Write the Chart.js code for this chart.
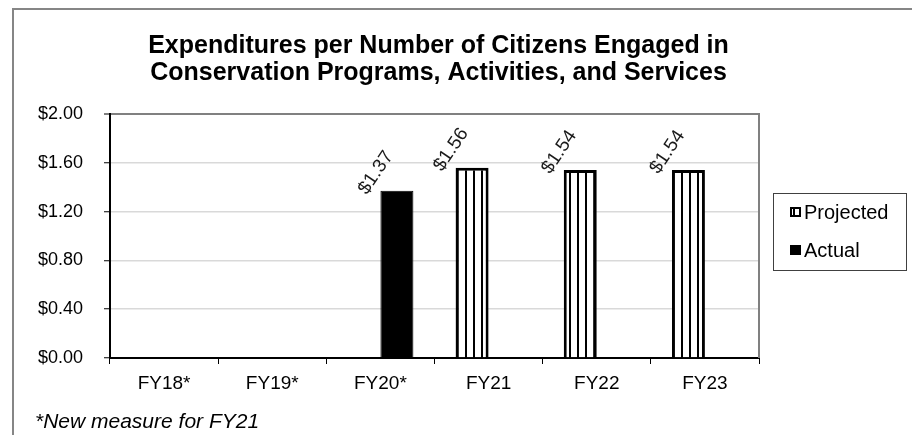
<!DOCTYPE html>
<html>
<head>
<meta charset="utf-8">
<script src="https://cdn.jsdelivr.net/npm/chart.js@4.4.1/dist/chart.umd.min.js"></script>
<style>
    html, body { margin: 0; padding: 0; background: #fff; }
    #wrap { position: relative; width: 912px; height: 435px; }
</style>
</head>
<body>
<div id="wrap"><canvas id="expChart" width="912" height="435"></canvas></div>
<script>
const categories = ['FY18*', 'FY19*', 'FY20*', 'FY21', 'FY22', 'FY23'];
const projectedValues = [null, null, null, 1.56, 1.54, 1.54];
const actualValues = [null, null, 1.37, null, null, null];
const yTicks = [0, 0.4, 0.8, 1.2, 1.6, 2.0];
const titleLines = ['Expenditures per Number of Citizens Engaged in', 'Conservation Programs, Activities, and Services'];
const footnote = '*New measure for FY21';

(function(){
    // vertical stripe fill for the projected bars
    function stripePattern(){
        let c = document.createElement('canvas');
        c.width = 8; c.height = 8;
        let p = c.getContext('2d');
        p.fillStyle = '#fff';
        p.fillRect(0, 0, 8, 8);
        p.fillStyle = '#000';
        p.fillRect(1, 0, 2, 8);
        return p.createPattern(c, 'repeat');
    }
    let stripes = stripePattern();

    const framePlugin = {
        id: 'frame',
        beforeDraw(chart){
            let ctx = chart.ctx;
            ctx.save();
            ctx.fillStyle = '#fff';
            ctx.fillRect(0, 0, chart.width, chart.height);
            ctx.strokeStyle = '#868686';
            ctx.lineWidth = 2;
            ctx.beginPath();
            ctx.moveTo(13, chart.height);
            ctx.lineTo(13, 9);
            ctx.lineTo(chart.width, 9);
            ctx.stroke();
            ctx.restore();
        },
        afterDraw(chart){
            let ctx = chart.ctx;
            let a = chart.chartArea;
            ctx.save();
            // right edge of plot area
            ctx.strokeStyle = '#808080';
            ctx.lineWidth = 2;
            ctx.beginPath();
            ctx.moveTo(a.right, a.top - 1);
            ctx.lineTo(a.right, a.bottom);
            ctx.stroke();

            // title
            ctx.fillStyle = '#000';
            ctx.font = 'bold 25px "Liberation Sans", Arial, sans-serif';
            ctx.textAlign = 'center';
            ctx.textBaseline = 'middle';
            let cx = (a.left + a.right) / 2 + 4;
            ctx.fillText(titleLines[0], cx, 46);
            ctx.fillText(titleLines[1], cx, 73);

            // footnote
            ctx.font = 'italic 21px "Liberation Sans", Arial, sans-serif';
            ctx.textAlign = 'left';
            ctx.textBaseline = 'alphabetic';
            ctx.fillText(footnote, 35, 428);

            // legend
            let lx = 773, ly = 193, lw = 133, lh = 77;
            ctx.fillStyle = '#fff';
            ctx.fillRect(lx, ly, lw, lh);
            ctx.strokeStyle = '#404040';
            ctx.lineWidth = 1;
            ctx.strokeRect(lx + 0.5, ly + 0.5, lw, lh);
            let items = [
                { label: chart.data.datasets[0].label, fill: stripes, y: 212 },
                { label: chart.data.datasets[1].label, fill: '#000', y: 250 }
            ];
            ctx.font = '20px "Liberation Sans", Arial, sans-serif';
            ctx.textBaseline = 'middle';
            items.forEach(function(it){
                ctx.fillStyle = it.fill;
                ctx.fillRect(790, it.y - 5, 11, 10);
                ctx.strokeStyle = '#000';
                ctx.lineWidth = 2;
                ctx.strokeRect(791, it.y - 4, 9, 8);
                ctx.fillStyle = '#000';
                ctx.fillText(it.label, 804, it.y + 1);
            });
            ctx.restore();
        },
        afterDatasetsDraw(chart){
            let ctx = chart.ctx;
            ctx.save();
            ctx.fillStyle = '#1a1a1a';
            ctx.font = '19px "Liberation Sans", Arial, sans-serif';
            ctx.textAlign = 'center';
            ctx.textBaseline = 'middle';
            chart.data.datasets.forEach(function(ds, i){
                let meta = chart.getDatasetMeta(i);
                meta.data.forEach(function(bar, j){
                    let v = ds.data[j];
                    if(v === null || v === undefined) return;
                    ctx.save();
                    ctx.translate(bar.x - 21, bar.y - 18);
                    ctx.rotate(-56 * Math.PI / 180);
                    ctx.fillText('$' + v.toFixed(2), 0, 0);
                    ctx.restore();
                });
            });
            ctx.restore();
        }
    };

    let ctx = document.getElementById('expChart').getContext('2d');
    new Chart(ctx, {
        type: 'bar',
        data: {
            labels: categories,
            datasets: [{
                label: 'Projected',
                data: projectedValues,
                backgroundColor: stripes,
                borderColor: '#000',
                borderWidth: 3,
                categoryPercentage: 0.61,
                barPercentage: 1
            }, {
                label: 'Actual',
                data: actualValues,
                backgroundColor: '#000',
                borderColor: '#000',
                borderWidth: 1,
                categoryPercentage: 0.61,
                barPercentage: 1
            }]
        },
        options: {
            responsive: false,
            animation: false,
            devicePixelRatio: 1,
            layout: {
                padding: { left: 0, top: 114, right: 153, bottom: 0 }
            },
            plugins: {
                legend: { display: false },
                title: { display: false },
                tooltip: { enabled: false }
            },
            scales: {
                x: {
                    grid: {
                        offset: true,
                        drawOnChartArea: false,
                        drawTicks: true,
                        tickLength: 6,
                        tickColor: '#000',
                        tickWidth: 1
                    },
                    border: { color: '#000', width: 2 },
                    ticks: {
                        color: '#000',
                        padding: 8,
                        font: { family: '"Liberation Sans", Arial, sans-serif', size: 19 }
                    },
                    afterFit(scale){
                        scale.height = 77;
                    }
                },
                y: {
                    min: 0,
                    max: 2,
                    afterBuildTicks(scale){
                        scale.ticks = yTicks.map(v => ({ value: v }));
                    },
                    grid: {
                        color: c => (c.tick && c.tick.value === 2) ? '#808080' : '#d9d9d9',
                        lineWidth: c => (c.tick && c.tick.value === 2) ? 2 : 1.5,
                        tickColor: '#000',
                        tickLength: 6,
                        tickWidth: 1
                    },
                    border: { color: '#000', width: 2 },
                    ticks: {
                        color: '#000',
                        padding: 21,
                        font: { family: '"Liberation Sans", Arial, sans-serif', size: 18 },
                        callback: v => '$' + Number(v).toFixed(2)
                    },
                    afterFit(scale){
                        scale.width = 110;
                    }
                }
            }
        },
        plugins: [framePlugin]
    });
})();
</script>
</body>
</html>
